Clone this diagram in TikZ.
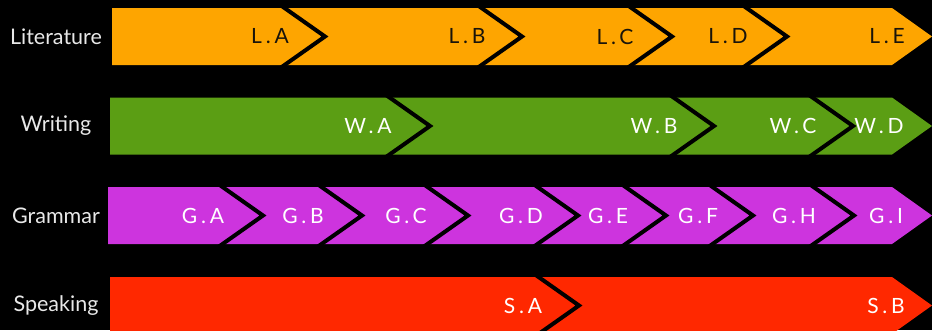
\documentclass[tikz,border=0pt]{standalone}
\usepackage{fontspec}
\setmainfont{Lato}
\newfontfamily\segfont[LetterSpace=18]{Lato}
\definecolor{litc}{RGB}{254,165,0}
\definecolor{wric}{RGB}{91,158,20}
\definecolor{grac}{RGB}{205,52,222}
\definecolor{spec}{RGB}{255,40,0}
\definecolor{rowtxt}{RGB}{232,232,232}
\definecolor{darktxt}{RGB}{25,20,10}
\newcommand\chevbar[7]{%
  % #1 name, #2 mid y, #3 left x, #4 colour, #5 tips, #6 label list x/text, #7 label colour
  \fill[#4] (#3,#2-28.5) -- (892,#2-28.5) -- (932,#2) -- (892,#2+28.5) -- (#3,#2+28.5) -- cycle;
  \foreach \t in {#5} \draw[sepline] (\t-44,#2-31) -- (\t,#2) -- (\t-44,#2+31);
  \foreach \x/\s [count=\i] in {#6} \node[seglab,text=#7] (#1\i) at (\x,#2) {\s};
}
\begin{document}
\begin{tikzpicture}[x=1pt,y=-1pt,
  sepline/.style={draw=black,line width=4pt,line join=miter},
  seglab/.style={inner sep=0pt,font=\segfont\fontsize{21}{21}\selectfont},
  rowlab/.style={inner sep=0pt,text=rowtxt,font=\fontsize{21.5}{22}\selectfont}]
\fill[black] (0,0) rectangle (932,330);
\useasboundingbox (0,0) rectangle (932,330);
\clip (0,0) rectangle (932,330);
\node[rowlab] (lit) at (56,36.5) {Literature};
\node[rowlab] (wri) at (56,126) {Writing};
\node[rowlab] (gra) at (56,215.5) {Grammar};
\node[rowlab] (spe) at (56,305.5) {Speaking};
\chevbar{L}{36.5}{112}{litc}{325,522,672,787}{270/L.A,467/L.B,615/L.C,728/L.D,887/L.E}{darktxt}
\chevbar{W}{126}{110}{wric}{430,714,853}{368/W.A,654/W.B,793/W.C,879/W.D}{white}
\chevbar{G}{215.5}{108}{grac}{263,362,468,578,666,753,854}{203/G.A,303/G.B,406/G.C,521/G.D,608/G.E,698/G.F,794/G.H,886/G.I}{white}
\chevbar{S}{305.5}{110}{spec}{579}{523/S.A,886/S.B}{white}
\end{tikzpicture}
\end{document}
